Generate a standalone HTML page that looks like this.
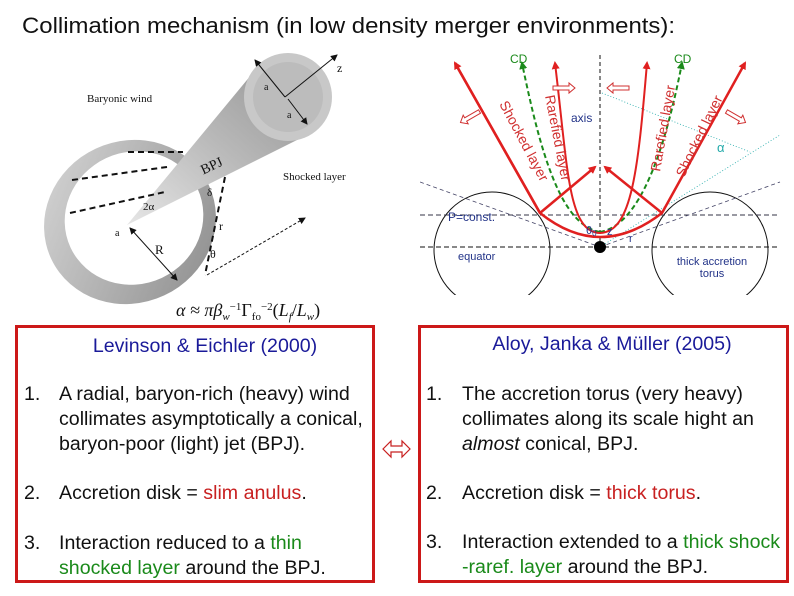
<!DOCTYPE html>
<html><head><meta charset="utf-8"><style>
html,body{margin:0;padding:0;background:#fff;}
svg{display:block;font-family:"Liberation Sans",Arial,sans-serif;}
</style></head><body>
<svg width="794" height="596" viewBox="0 0 794 596" xmlns="http://www.w3.org/2000/svg">
<defs>
<marker id="ar" markerWidth="8" markerHeight="8" refX="6" refY="4" orient="auto" markerUnits="userSpaceOnUse"><path d="M0,0 L8,4 L0,8 z" fill="#e02020"/></marker>
<marker id="ag" markerWidth="8" markerHeight="8" refX="6" refY="4" orient="auto" markerUnits="userSpaceOnUse"><path d="M0,0 L8,4 L0,8 z" fill="#1a8a1a"/></marker>
<marker id="ab" markerWidth="7" markerHeight="7" refX="6" refY="3.5" orient="auto" markerUnits="userSpaceOnUse"><path d="M0,0 L7,3.5 L0,7 z" fill="#111"/></marker>
<marker id="ab2" markerWidth="7" markerHeight="7" refX="1" refY="3.5" orient="auto" markerUnits="userSpaceOnUse"><path d="M7,0 L0,3.5 L7,7 z" fill="#111"/></marker>
<linearGradient id="g1" x1="0" y1="0" x2="1" y2="1"><stop offset="0" stop-color="#d8d8d8"/><stop offset="1" stop-color="#8a8a8a"/></linearGradient>
<linearGradient id="g2" x1="0" y1="1" x2="1" y2="0"><stop offset="0" stop-color="#e6e6e6"/><stop offset="0.5" stop-color="#b8b8b8"/><stop offset="1" stop-color="#909090"/></linearGradient>
<clipPath id="cr"><rect x="420" y="45" width="374" height="250"/></clipPath>
</defs>

<text x="22" y="33" font-size="22" fill="#111" textLength="653" lengthAdjust="spacingAndGlyphs">Collimation mechanism (in low density merger environments):</text>

<g>
<ellipse cx="130" cy="222" rx="87" ry="81" transform="rotate(-25 130 222)" fill="url(#g1)"/>
<ellipse cx="134" cy="218" rx="70" ry="66" transform="rotate(-25 134 218)" fill="#fff"/>
<polygon points="127,225 261,63 315,131" fill="url(#g2)"/>
<circle cx="288" cy="97" r="44" fill="#c8c8c8"/>
<circle cx="288" cy="97" r="35" fill="#bcbcbc"/>
<g stroke="#111" stroke-width="2" stroke-dasharray="6,4" fill="none">
<line x1="128" y1="152" x2="183" y2="152"/>
<line x1="72" y1="180" x2="167" y2="167"/>
<line x1="70" y1="213" x2="165" y2="192"/>
<line x1="225" y1="177" x2="205" y2="275"/>
</g>
<line x1="207" y1="275" x2="305" y2="218" stroke="#111" stroke-width="1" stroke-dasharray="3,2" marker-end="url(#ab)"/>
<line x1="130" y1="228" x2="177" y2="280" stroke="#111" stroke-width="1" marker-end="url(#ab)" marker-start="url(#ab2)"/>
<line x1="285" y1="97" x2="337" y2="55" stroke="#111" stroke-width="1" marker-end="url(#ab)"/>
<line x1="255" y1="60" x2="285" y2="97" stroke="#111" stroke-width="1" marker-start="url(#ab2)"/>
<line x1="288" y1="99" x2="307" y2="124" stroke="#111" stroke-width="1" marker-end="url(#ab)"/>
<g font-family="Liberation Serif,serif" fill="#111">
<text x="87" y="102" font-size="11">Baryonic wind</text>
<text x="283" y="180" font-size="11">Shocked layer</text>
<text x="200" y="170" font-size="14" transform="rotate(-25 212 165)">BPJ</text>
<text x="155" y="254" font-size="13">R</text>
<text x="219" y="230" font-size="12">r</text>
<text x="210" y="258" font-size="12">θ</text>
<text x="143" y="210" font-size="11">2α</text>
<text x="207" y="196" font-size="11">δ</text>
<text x="337" y="72" font-size="12">z</text>
<text x="264" y="90" font-size="10">a</text>
<text x="287" y="118" font-size="10">a</text>
<text x="115" y="236" font-size="10">a</text>
</g>
<text x="176" y="316" font-family="Liberation Serif,serif" font-style="italic" font-size="18" fill="#111">α ≈ πβ<tspan font-size="11" dy="4">w</tspan><tspan font-size="11" dy="-10" font-style="normal">−1</tspan><tspan dy="6" font-style="normal">Γ</tspan><tspan font-size="11" dy="4" font-style="normal">fo</tspan><tspan font-size="11" dy="-10" font-style="normal">−2</tspan><tspan dy="6" font-style="normal">(</tspan>L<tspan font-size="11" dy="4">f</tspan><tspan dy="-4" font-style="normal">/</tspan>L<tspan font-size="11" dy="4">w</tspan><tspan dy="-4" font-style="normal">)</tspan></text>
</g>

<g clip-path="url(#cr)">
<circle cx="492" cy="250" r="58" fill="none" stroke="#111" stroke-width="1"/>
<circle cx="710" cy="250" r="58" fill="none" stroke="#111" stroke-width="1"/>
<line x1="420" y1="247" x2="780" y2="247" stroke="#111" stroke-width="1" stroke-dasharray="5,3"/>
<line x1="600" y1="55" x2="600" y2="247" stroke="#111" stroke-width="1" stroke-dasharray="4,3"/>
<line x1="420" y1="215" x2="780" y2="215" stroke="#334" stroke-width="1" stroke-dasharray="5,3"/>
<line x1="420" y1="182" x2="600" y2="247" stroke="#446" stroke-width="0.8" stroke-dasharray="4,3"/>
<line x1="600" y1="247" x2="780" y2="182" stroke="#446" stroke-width="0.8" stroke-dasharray="4,3"/>
<line x1="600" y1="247" x2="780" y2="135" stroke="#2aa" stroke-width="0.8" stroke-dasharray="1,2"/>
<line x1="602" y1="93" x2="750" y2="152" stroke="#2aa" stroke-width="0.8" stroke-dasharray="1,2"/>
<path d="M455,63 L540,213 Q600,261 662,213 L745,63" fill="none" stroke="#e02020" stroke-width="2.5" marker-end="url(#ar)"/>
<line x1="540" y1="213" x2="455" y2="63" stroke="#e02020" stroke-width="2.5" marker-end="url(#ar)"/>
<path d="M600,232 C560,225 540,150 522,63" fill="none" stroke="#1a8a1a" stroke-width="2" stroke-dasharray="5,3" marker-end="url(#ag)"/>
<path d="M600,232 C640,225 665,150 682,63" fill="none" stroke="#1a8a1a" stroke-width="2" stroke-dasharray="5,3" marker-end="url(#ag)"/>
<path d="M600,233 C568,232 568,170 555,63" fill="none" stroke="#e02020" stroke-width="2" marker-end="url(#ar)"/>
<path d="M600,233 C632,232 638,170 647,63" fill="none" stroke="#e02020" stroke-width="2" marker-end="url(#ar)"/>
<line x1="540" y1="213" x2="595" y2="167" stroke="#e02020" stroke-width="2.5" marker-end="url(#ar)"/>
<line x1="662" y1="213" x2="605" y2="167" stroke="#e02020" stroke-width="2.5" marker-end="url(#ar)"/>
<circle cx="600" cy="247" r="6" fill="#000"/>
<g fill="#fff" stroke="#d03030" stroke-width="1">
<polygon points="-11,-2 5,-2 5,-5 11,0 5,5 5,2 -11,2" transform="translate(564,88)"/>
<polygon points="-11,-2 5,-2 5,-5 11,0 5,5 5,2 -11,2" transform="translate(618,88) rotate(180)"/>
<polygon points="-11,-2 5,-2 5,-5 11,0 5,5 5,2 -11,2" transform="translate(470,117) rotate(150)"/>
<polygon points="-11,-2 5,-2 5,-5 11,0 5,5 5,2 -11,2" transform="translate(736,117) rotate(30)"/>
</g>
<g font-size="14" fill="#d03030">
<text transform="translate(499,104) rotate(62)">Shocked layer</text>
<text transform="translate(545,96) rotate(79)">Rarefied layer</text>
<text transform="translate(660,172) rotate(-80)">Rarefied layer</text>
<text transform="translate(684,178) rotate(-64)">Shocked layer</text>
</g>
<g font-size="12" fill="#1a8a1a"><text x="510" y="63">CD</text><text x="674" y="63">CD</text></g>
<g font-size="12" fill="#223388">
<text x="571" y="122">axis</text>
<text x="448" y="221">P=const.</text>
<text x="586" y="234" font-size="11">θ<tspan font-size="8" dy="2">0</tspan></text>
<text x="607" y="235" font-size="11">z</text>
<text x="629" y="242" font-size="11">r</text>
<text x="458" y="260" font-size="11">equator</text>
<text x="712" y="265" font-size="11" text-anchor="middle">thick accretion</text>
<text x="712" y="277" font-size="11" text-anchor="middle">torus</text>
</g>
<text x="717" y="152" font-size="13" fill="#2aa">α</text>
</g>

<rect x="16.5" y="326.5" width="357" height="255" fill="none" stroke="#cc1818" stroke-width="3"/>
<rect x="419.5" y="326.5" width="368" height="255" fill="none" stroke="#cc1818" stroke-width="3"/>
<g font-size="19.6" fill="#111">
<text x="205" y="352" text-anchor="middle" fill="#1a1a99">Levinson &amp; Eichler (2000)</text>
<text x="24" y="400">1.</text>
<text x="59" y="400">A radial, baryon-rich (heavy) wind</text>
<text x="59" y="425">collimates asymptotically a conical,</text>
<text x="59" y="450">baryon-poor (light) jet (BPJ).</text>
<text x="24" y="499">2.</text>
<text x="59" y="499">Accretion disk = <tspan fill="#c82020">slim anulus</tspan>.</text>
<text x="24" y="549">3.</text>
<text x="59" y="549">Interaction reduced to a <tspan fill="#1a8a1a">thin</tspan></text>
<text x="59" y="574"><tspan fill="#1a8a1a">shocked layer</tspan> around the BPJ.</text>

<text x="612" y="350" text-anchor="middle" fill="#1a1a99">Aloy, Janka &amp; Müller (2005)</text>
<text x="426" y="400">1.</text>
<text x="462" y="400">The accretion torus (very heavy)</text>
<text x="462" y="425">collimates along its scale hight an</text>
<text x="462" y="450"><tspan font-style="italic">almost</tspan> conical, BPJ.</text>
<text x="426" y="499">2.</text>
<text x="462" y="499">Accretion disk = <tspan fill="#c82020">thick torus</tspan>.</text>
<text x="426" y="548">3.</text>
<text x="462" y="548">Interaction extended to a <tspan fill="#1a8a1a">thick  shock</tspan></text>
<text x="462" y="573"><tspan fill="#1a8a1a">-raref. layer</tspan> around the BPJ.</text>
</g>
<path d="M383,449 L391,441 L391,446 L402,446 L402,441 L410,449 L402,457 L402,452 L391,452 L391,457 Z" fill="#fff" stroke="#c82020" stroke-width="1.2"/>
</svg>
</body></html>
